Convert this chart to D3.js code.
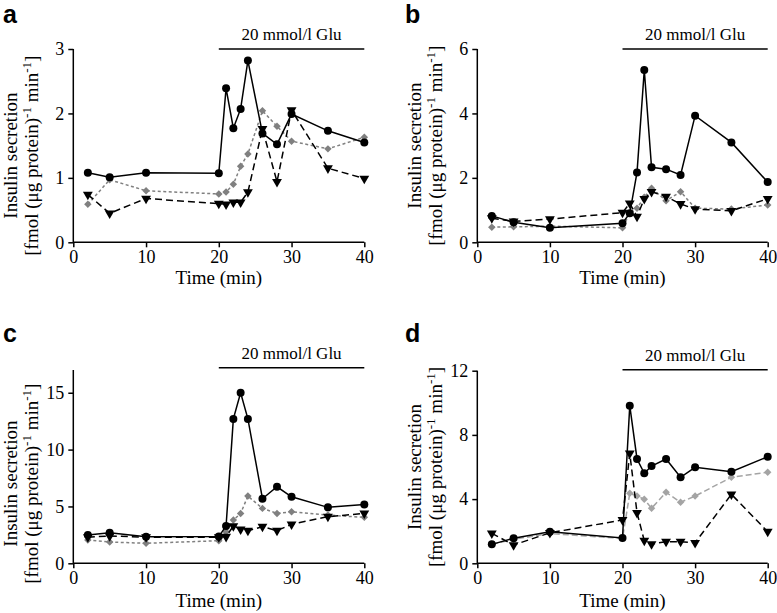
<!DOCTYPE html>
<html><head><meta charset="utf-8">
<script src="https://cdn.jsdelivr.net/npm/d3@7"></script>
<style>
body{margin:0;background:#fff;}
svg{display:block;}
svg text, svg tspan{font-family:"Liberation Serif","DejaVu Serif",serif !important;fill:#000;}
svg text.plabel{font-family:"Liberation Sans","DejaVu Sans",sans-serif !important;font-weight:bold;}
</style></head><body>
<svg id="chart" width="777" height="613"></svg>
<script>
// ---- data ----
const times = [2, 5, 10, 20, 21, 22, 23, 24, 26, 28, 30, 35, 40];
const panelNames = ["a", "b", "c", "d"];
const xTicks = [0, 10, 20, 30, 40];
const yTicksA = [0, 1, 2, 3];
const yTicksB = [0, 2, 4, 6];
const yTicksC = [0, 5, 10, 15];
const yTicksD = [0, 4, 8, 12];
const yMaxes = [3, 6, 17, 12];

const aCircle   = [1.08, 1.01, 1.08, 1.07, 2.39, 1.77, 2.07, 2.82, 1.69, 1.52, 1.99, 1.73, 1.55];
const aTriangle = [0.74, 0.45, 0.68, 0.60, 0.59, 0.62, 0.62, 0.78, 1.76, 0.94, 2.05, 1.15, 0.99];
const aDiamond  = [0.59, 0.97, 0.80, 0.75, 0.78, 0.90, 1.18, 1.37, 2.04, 1.80, 1.57, 1.45, 1.63];

const bCircle   = [0.82, 0.62, 0.45, 0.59, 0.90, 2.17, 5.35, 2.33, 2.27, 2.09, 3.93, 3.10, 1.87];
const bTriangle = [0.75, 0.65, 0.72, 0.92, 1.21, 0.80, 1.35, 1.57, 1.42, 1.19, 1.03, 0.98, 1.35];
const bDiamond  = [0.47, 0.48, 0.50, 0.45, 0.90, 1.06, 1.40, 1.68, 1.29, 1.57, 1.06, 1.03, 1.16];

const cCircle   = [2.49, 2.69, 2.34, 2.35, 3.28, 12.7, 15.0, 12.7, 5.68, 6.73, 5.85, 4.92, 5.18];
const cTriangle = [2.30, 2.40, 2.30, 2.30, 2.34, 3.28, 2.99, 2.87, 3.22, 2.87, 3.43, 4.10, 4.39];
const cDiamond  = [2.05, 1.87, 1.76, 1.99, 2.78, 3.80, 4.39, 5.91, 4.83, 4.39, 4.53, 4.24, 4.04];

const dCircle   = [1.18, 1.56, 1.97, 1.58, 9.82, 6.50, 5.61, 6.06, 6.50, 5.36, 5.98, 5.71, 6.64];
const dTriangle = [1.87, 1.14, 1.90, 2.70, 6.85, 3.15, 1.41, 1.20, 1.35, 1.35, 1.28, 4.30, 1.97];
const dDiamond  = [1.18, 1.50, 1.85, 1.55, 4.36, 4.19, 3.99, 3.43, 4.42, 3.80, 4.19, 5.36, 5.67];

const gluLabel = "20 mmol/l Glu";
const gluStart = 20, gluEnd = 40;
const xTitle = "Time (min)";
const yTitle1 = "Insulin secretion";

// ---- layout ----
const SERIF = "'Liberation Serif', 'DejaVu Serif', serif";
const layout = [
  {x0:73.3, x1:364.3, yb:242.3, yt:49,   barY:49,    lab:[3,23],    ylabDy:10, xtDy:41.8},
  {x0:477.3,x1:767.7, yb:242.3, yt:49,   barY:49,    lab:[405,23],  ylabDy:0,  xtDy:41.8},
  {x0:73.3, x1:364.3, yb:563.3, yt:370,  barY:367.7, lab:[3,342],   ylabDy:17, xtDy:44},
  {x0:477.3,x1:767.7, yb:563.3, yt:370.7,barY:369.7, lab:[405,342], ylabDy:0,  xtDy:44}
];
const series = [
  [aCircle, aTriangle, aDiamond],
  [bCircle, bTriangle, bDiamond],
  [cCircle, cTriangle, cDiamond],
  [dCircle, dTriangle, dDiamond]
];
const yTicksAll = [yTicksA, yTicksB, yTicksC, yTicksD];

const svg = d3.select("#chart");

layout.forEach((L, i) => {
  const g = svg.append("g");
  const x = d3.scaleLinear().domain([0, 40]).range([L.x0, L.x1]);
  const y = d3.scaleLinear().domain([0, yMaxes[i]]).range([L.yb, L.yt]);

  // axes
  const xa = g.append("g").attr("transform", `translate(0,${L.yb})`)
    .call(d3.axisBottom(x).tickValues(xTicks).tickSize(5).tickPadding(3).tickFormat(d3.format("d")));
  const ya = g.append("g").attr("transform", `translate(${L.x0},0)`)
    .call(d3.axisLeft(y).tickValues(yTicksAll[i]).tickSize(5).tickPadding(4).tickFormat(d3.format("d")));
  [xa, ya].forEach(a => {
    a.attr("font-family", SERIF).attr("font-size", 18);
    a.select(".domain").attr("stroke", "#000").attr("stroke-width", 1.5)
      .attr("d", a === xa ? `M${L.x0},0H${L.x1}` : `M0,${L.yb}V${L.yt}`);
    a.selectAll(".tick line").attr("stroke", "#000").attr("stroke-width", 1.5);
    a.selectAll(".tick text").attr("font-size", 18).attr("font-family", SERIF).attr("fill", "#000");
  });

  // titles
  g.append("text").attr("x", x(20)).attr("y", L.yb + L.xtDy).attr("font-family", SERIF)
    .attr("text-anchor", "middle").attr("font-size", 19).text(xTitle);
  const cy = (L.yb + L.yt) / 2 + L.ylabDy;
  g.append("text").attr("transform", `translate(${L.x0 - 56},${cy}) rotate(-90)`)
    .attr("text-anchor", "middle").attr("font-size", 19).attr("font-family", SERIF).text(yTitle1);
  const l2 = g.append("text").attr("transform", `translate(${L.x0 - 35},${cy}) rotate(-90)`)
    .attr("text-anchor", "middle").attr("font-size", 19).attr("font-family", SERIF);
  l2.append("tspan").text("[fmol (μg protein)");
  l2.append("tspan").attr("dy", -7).attr("font-size", 13).text("-1");
  l2.append("tspan").attr("dy", 7).text(" min");
  l2.append("tspan").attr("dy", -7).attr("font-size", 13).text("-1");
  l2.append("tspan").attr("dy", 7).text("]");

  // glucose bar
  g.append("line").attr("x1", x(gluStart)).attr("x2", x(gluEnd))
    .attr("y1", L.barY).attr("y2", L.barY).attr("stroke", "#000").attr("stroke-width", 1.5);
  g.append("text").attr("x", x((gluStart + gluEnd) / 2)).attr("y", L.barY - 9).attr("font-family", SERIF)
    .attr("text-anchor", "middle").attr("font-size", 17).text(gluLabel);

  // panel label
  g.append("text").attr("class", "plabel").attr("x", L.lab[0]).attr("y", L.lab[1])
    .attr("font-family", "'Liberation Sans', Arial, sans-serif").attr("font-weight", "bold")
    .attr("font-size", 25).text(panelNames[i]);

  const [circ, tri, dia] = series[i];
  const line = d3.line().x((d, k) => x(times[k])).y(d => y(d));
  const grey = i === 3 ? "#a4a4a4" : "#808080";
  const greyDash = i === 3 ? "6,3" : "3,2.5";

  // diamonds
  g.append("path").datum(dia).attr("d", line).attr("fill", "none")
    .attr("stroke", grey).attr("stroke-width", 1.5).attr("stroke-dasharray", greyDash);
  g.selectAll(null).data(dia).join("path")
    .attr("d", d3.symbol(d3.symbolSquare, 28)())
    .attr("transform", (d, k) => `translate(${x(times[k])},${y(d)}) rotate(45)`)
    .attr("fill", grey);

  // triangles
  g.append("path").datum(tri).attr("d", line).attr("fill", "none")
    .attr("stroke", "#000").attr("stroke-width", 1.5).attr("stroke-dasharray", "7,4");
  g.selectAll(null).data(tri).join("path")
    .attr("d", d3.symbol(d3.symbolTriangle, 42)())
    .attr("transform", (d, k) => `translate(${x(times[k])},${y(d)}) rotate(180)`)
    .attr("fill", "#000");

  // circles
  g.append("path").datum(circ).attr("d", line).attr("fill", "none")
    .attr("stroke", "#000").attr("stroke-width", 1.5);
  g.selectAll(null).data(circ).join("circle")
    .attr("cx", (d, k) => x(times[k])).attr("cy", d => y(d)).attr("r", 4)
    .attr("fill", "#000");
});
</script>
</body></html>
